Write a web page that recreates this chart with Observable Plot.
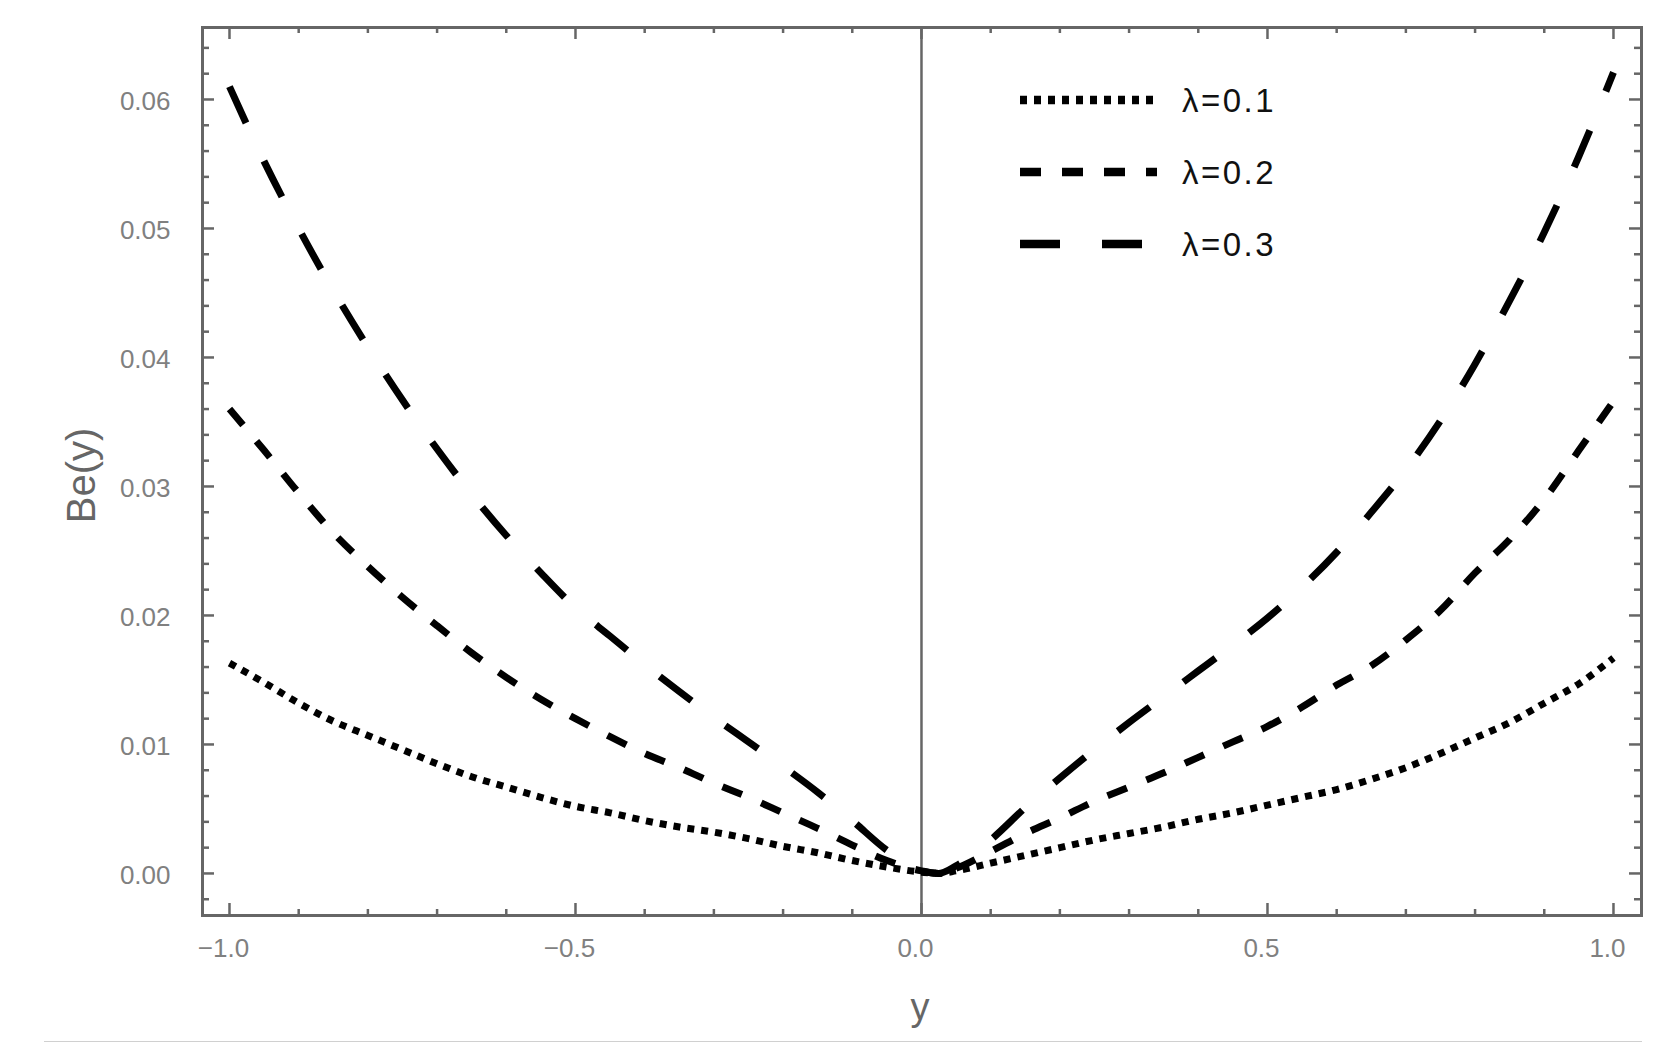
<!DOCTYPE html>
<html>
<head>
<meta charset="utf-8">
<script src="https://cdn.jsdelivr.net/npm/d3@7"></script>
<script src="https://cdn.jsdelivr.net/npm/@observablehq/plot@0.6"></script>
<style>
  html, body { margin: 0; padding: 0; background: #ffffff; }
  #wrap { position: relative; width: 1674px; height: 1064px; overflow: hidden;
          font-family: "Liberation Sans", Arial, sans-serif; }
  #divider { position: absolute; left: 44px; top: 1041px; width: 1598px; height: 1px; background: #d0d0d0; }
  #legend { position: absolute; left: 0; top: 0; pointer-events: none; }
</style>
</head>
<body>
<div id="wrap"></div>
<script>
// ---- data ----
const yPos = [-1.00,-0.95,-0.90,-0.85,-0.80,-0.75,-0.70,-0.65,-0.60,-0.55,-0.50,-0.45,-0.40,-0.35,-0.30,-0.25,-0.20,-0.15,-0.10,-0.05,
              0.00,0.025,0.05,0.10,0.15,0.20,0.25,0.30,0.35,0.40,0.45,0.50,0.55,0.60,0.65,0.70,0.75,0.80,0.85,0.90,0.95,1.00];
const be01 = [0.0163,0.0148,0.0132,0.0118,0.0107,0.0096,0.0085,0.0075,0.0067,0.0059,0.0052,0.0047,0.0041,0.0036,0.0032,0.0027,0.0021,0.0016,0.0010,0.0005,
              0.0001,0.0000,0.0002,0.0008,0.0014,0.0020,0.0026,0.0031,0.0036,0.0042,0.0047,0.0053,0.0059,0.0065,0.0073,0.0082,0.0093,0.0105,0.0117,0.0132,0.0147,0.0167];
const be02 = [0.0360,0.0328,0.0295,0.0264,0.0238,0.0214,0.0192,0.0171,0.0152,0.0135,0.0120,0.0106,0.0093,0.0082,0.0070,0.0059,0.0047,0.0035,0.0022,0.0010,
              0.0002,0.0000,0.0004,0.0017,0.0031,0.0043,0.0056,0.0067,0.0078,0.0090,0.0102,0.0114,0.0129,0.0146,0.0161,0.0181,0.0204,0.0233,0.0259,0.0290,0.0328,0.0366];
const be03 = [0.0610,0.0552,0.0500,0.0452,0.0408,0.0367,0.0329,0.0294,0.0262,0.0233,0.0206,0.0184,0.0162,0.0141,0.0121,0.0102,0.0083,0.0063,0.0041,0.0018,
              0.0002,0.0000,0.0006,0.0026,0.0051,0.0074,0.0096,0.0117,0.0137,0.0157,0.0177,0.0198,0.0222,0.0249,0.0280,0.0313,0.0351,0.0395,0.0444,0.0497,0.0556,0.0621];
const seriesLabels = ["λ=0.1", "λ=0.2", "λ=0.3"];
const xMajor = [-1.0, -0.5, 0.0, 0.5, 1.0];
const yMajor = [0.00, 0.01, 0.02, 0.03, 0.04, 0.05, 0.06];
const xLabel = "y";
const yLabel = "Be(y)";

// ---- styles ----
const dashes = ["7,7", "21,21", "40,42"];
const W = 1674, H = 1064, mL = 202, mR = 33, mT = 27, mB = 149;
const xDomain = [-1.039, 1.0405];
const yDomain = [-0.00326, 0.06558];
const pxX = (xDomain[1] - xDomain[0]) / (W - mL - mR);
const pxY = (yDomain[1] - yDomain[0]) / (H - mT - mB);
const gray = "#666666";

const seriesValues = [be01, be02, be03];
const rows = seriesLabels.flatMap((lab, i) => yPos.map((x, j) => ({series: lab, yv: x, be: seriesValues[i][j]})));

const xMinor = d3.range(-10, 11).map(i => i / 10).filter(v => Math.abs(v * 2 - Math.round(v * 2)) > 1e-6);
const yMinor = d3.range(-1, 33).map(i => i * 0.002).filter(v => Math.abs(v * 100 - Math.round(v * 100)) > 1e-6);

const tickMarks = [];
for (const [vals, len] of [[xMajor, 12], [xMinor, 6]]) {
  tickMarks.push(Plot.ruleX(vals, {x: d => d, y1: () => yDomain[0], y2: () => yDomain[0] + len * pxY, stroke: gray, strokeWidth: 2.5}));
  tickMarks.push(Plot.ruleX(vals, {x: d => d, y1: () => yDomain[1], y2: () => yDomain[1] - len * pxY, stroke: gray, strokeWidth: 2.5}));
}
for (const [vals, len] of [[yMajor, 12], [yMinor, 7]]) {
  tickMarks.push(Plot.ruleY(vals, {y: d => d, x1: () => xDomain[0], x2: () => xDomain[0] + len * pxX, stroke: gray, strokeWidth: 2.5}));
  tickMarks.push(Plot.ruleY(vals, {y: d => d, x1: () => xDomain[1], x2: () => xDomain[1] - len * pxX, stroke: gray, strokeWidth: 2.5}));
}

const lineMarks = seriesLabels.map((lab, i) =>
  Plot.line(rows.filter(r => r.series === lab), {
    x: "yv", y: "be", stroke: "black", strokeWidth: 7,
    strokeDasharray: dashes[i], strokeLinecap: "butt", curve: "monotone-x"
  })
);

const chart = Plot.plot({
  width: W, height: H,
  marginLeft: mL, marginRight: mR, marginTop: mT, marginBottom: mB,
  x: {domain: xDomain},
  y: {domain: yDomain},
  style: {fontFamily: '"Liberation Sans", Arial, sans-serif', background: "white", overflow: "visible"},
  marks: [
    Plot.ruleX([0], {stroke: gray, strokeWidth: 2.5}),
    ...lineMarks,
    ...tickMarks,
    Plot.frame({stroke: gray, strokeWidth: 3}),
    Plot.axisX(xMajor, {anchor: "bottom", tickSize: 0, tickPadding: 23, tickFormat: d3.format(".1f"),
                        fontSize: 26, fill: "#808080", dx: -6, label: null}),
    Plot.axisY(yMajor, {anchor: "left", tickSize: 0, tickPadding: 32, tickFormat: d3.format(".2f"),
                        fontSize: 26, fill: "#808080", dy: 2, label: null}),
    Plot.text([yLabel], {frameAnchor: "left", text: d => d, rotate: -90, dx: -120, dy: 4,
                         fontSize: 40, fill: gray, textAnchor: "middle", lineAnchor: "middle"}),
    Plot.text([xLabel], {frameAnchor: "bottom", text: d => d, dx: -2, dy: 78,
                         fontSize: 38, fill: gray, textAnchor: "middle", lineAnchor: "top"})
  ]
});

const wrap = document.getElementById("wrap");
wrap.appendChild(chart);

// divider line under the chart
const divider = document.createElement("div");
divider.id = "divider";
wrap.appendChild(divider);

// legend inside the frame
const lg = d3.select(wrap).append("svg").attr("id", "legend").attr("width", W).attr("height", H);
const legendRowY = [100, 172, 244];
seriesLabels.forEach((lab, i) => {
  lg.append("line")
    .attr("x1", 1020).attr("x2", 1157)
    .attr("y1", legendRowY[i]).attr("y2", legendRowY[i])
    .attr("stroke", "black").attr("stroke-width", 8.5)
    .attr("stroke-dasharray", dashes[i]).attr("stroke-linecap", "butt");
  lg.append("text")
    .attr("x", 1182).attr("y", legendRowY[i] + 11.5)
    .attr("font-family", '"Liberation Sans", Arial, sans-serif')
    .attr("font-size", 33).attr("letter-spacing", "2.5px").attr("fill", "#111")
    .text(lab);
});
</script>
</body>
</html>
